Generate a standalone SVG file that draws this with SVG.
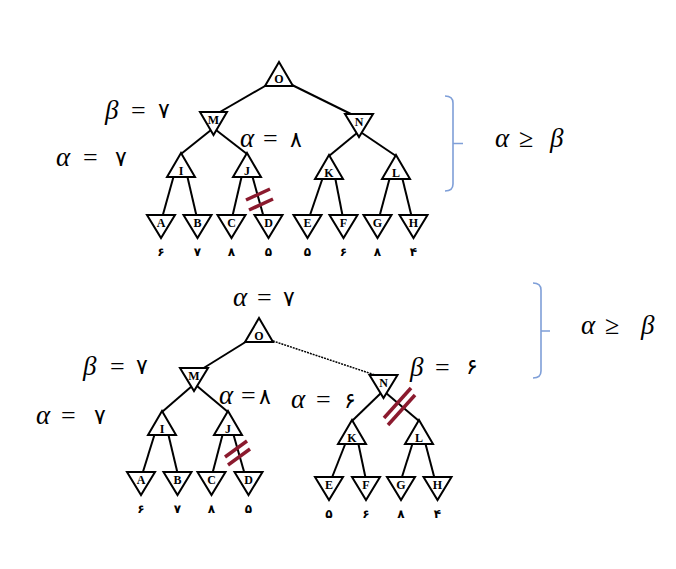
<svg xmlns="http://www.w3.org/2000/svg" width="676" height="569" viewBox="0 0 676 569">
<style>
.t{fill:#fff;stroke:#000;stroke-width:2;stroke-linejoin:miter}
.e{stroke:#000;stroke-width:2;fill:none}
.d{stroke:#000;stroke-width:1.5;fill:none;stroke-dasharray:2 1}
.cut{stroke:#8b1a2e;stroke-width:3.5;fill:none}
.br{stroke:#7f9fd8;stroke-width:1.6;fill:none}
.nl{font-family:"Liberation Serif",serif;font-weight:bold;font-size:12px;text-anchor:middle;fill:#000}
.v{font-family:"DejaVu Sans",sans-serif;font-weight:bold;font-size:12px;text-anchor:middle;fill:#000}
.g{font-family:"Liberation Serif",serif;font-style:italic;font-size:27px;fill:#000}
.eq{font-family:"Liberation Serif",serif;font-size:26px;fill:#000}
.n{font-family:"DejaVu Sans",sans-serif;font-size:22px;fill:#000}
</style>
<rect width="676" height="569" fill="#fff"/>
<g id="connectors">
<line class="e" x1="272" y1="82" x2="213" y2="116"/>
<line class="e" x1="286" y1="82" x2="359" y2="118"/>
<line class="e" x1="211" y1="130" x2="181" y2="154"/>
<line class="e" x1="216" y1="130" x2="247" y2="154"/>
<line class="e" x1="357" y1="133" x2="329" y2="156"/>
<line class="e" x1="362" y1="133" x2="396" y2="156"/>
<line class="e" x1="174" y1="175" x2="162" y2="218"/>
<line class="e" x1="187" y1="175" x2="197" y2="218"/>
<line class="e" x1="242" y1="175" x2="232" y2="218"/>
<line class="e" x1="252" y1="175" x2="264" y2="218"/>
<line class="e" x1="323" y1="177" x2="309" y2="218"/>
<line class="e" x1="335" y1="177" x2="343" y2="218"/>
<line class="e" x1="390" y1="177" x2="379" y2="218"/>
<line class="e" x1="402" y1="177" x2="412" y2="218"/>
<line class="e" x1="252" y1="338" x2="194" y2="374"/>
<line class="d" x1="270" y1="340" x2="384" y2="378"/>
<line class="e" x1="192" y1="386" x2="162" y2="412"/>
<line class="e" x1="197" y1="386" x2="228" y2="412"/>
<line class="e" x1="381" y1="393" x2="352" y2="421"/>
<line class="e" x1="386" y1="393" x2="419" y2="421"/>
<line class="e" x1="155" y1="433" x2="142" y2="475"/>
<line class="e" x1="168" y1="433" x2="178" y2="475"/>
<line class="e" x1="223" y1="433" x2="212" y2="475"/>
<line class="e" x1="233" y1="433" x2="245" y2="475"/>
<line class="e" x1="346" y1="442" x2="331" y2="480"/>
<line class="e" x1="358" y1="442" x2="366" y2="480"/>
<line class="e" x1="413" y1="442" x2="401" y2="480"/>
<line class="e" x1="425" y1="442" x2="435" y2="480"/>
</g>
<g id="top-tree">
<g id="tO"><polygon class="t" points="279,62 265,86 293,86"/><text class="nl" x="279" y="83">O</text></g>
<g id="tM"><polygon class="t" points="200,112 227,112 213.5,135"/><text class="nl" x="213.5" y="124">M</text></g>
<g id="tN"><polygon class="t" points="345,114 373,114 359,137"/><text class="nl" x="359" y="126">N</text></g>
<g id="tI"><polygon class="t" points="181,153 167,177 195,177"/><text class="nl" x="181" y="175">I</text></g>
<g id="tJ"><polygon class="t" points="247,153 233,177 261,177"/><text class="nl" x="247" y="175">J</text></g>
<g id="tK"><polygon class="t" points="329,155 315,179 343,179"/><text class="nl" x="329" y="177">K</text></g>
<g id="tL"><polygon class="t" points="396,155 382,179 410,179"/><text class="nl" x="396" y="177">L</text></g>
<g id="tA"><polygon class="t" points="147,215 175,215 161,238"/><text class="nl" x="161" y="227">A</text><text class="v" x="161" y="256">۶</text></g>
<g id="tB"><polygon class="t" points="183.5,215 211.5,215 197.5,238"/><text class="nl" x="197.5" y="227">B</text><text class="v" x="197.5" y="256">۷</text></g>
<g id="tC"><polygon class="t" points="217.5,215 245.5,215 231.5,238"/><text class="nl" x="231.5" y="227">C</text><text class="v" x="231.5" y="256">۸</text></g>
<g id="tD"><polygon class="t" points="254.5,215 282.5,215 268.5,238"/><text class="nl" x="268.5" y="227">D</text><text class="v" x="268.5" y="256">۵</text></g>
<g id="tE"><polygon class="t" points="293.5,215 321.5,215 307.5,238"/><text class="nl" x="307.5" y="227">E</text><text class="v" x="307.5" y="256">۵</text></g>
<g id="tF"><polygon class="t" points="329.5,215 357.5,215 343.5,238"/><text class="nl" x="343.5" y="227">F</text><text class="v" x="343.5" y="256">۶</text></g>
<g id="tG"><polygon class="t" points="363.5,215 391.5,215 377.5,238"/><text class="nl" x="377.5" y="227">G</text><text class="v" x="377.5" y="256">۸</text></g>
<g id="tH"><polygon class="t" points="399.5,215 427.5,215 413.5,238"/><text class="nl" x="413.5" y="227">H</text><text class="v" x="413.5" y="256">۴</text></g>
</g>
<g id="bottom-tree">
<g id="bO"><polygon class="t" points="259,318 245,342 273,342"/><text class="nl" x="259" y="340">O</text></g>
<g id="bM"><polygon class="t" points="180,368 208,368 194,391"/><text class="nl" x="194" y="380">M</text></g>
<g id="bN"><polygon class="t" points="369.5,375 397.5,375 383.5,398"/><text class="nl" x="383.5" y="387">N</text></g>
<g id="bI"><polygon class="t" points="162,411 148,435 176,435"/><text class="nl" x="162" y="433">I</text></g>
<g id="bJ"><polygon class="t" points="228,411 214,435 242,435"/><text class="nl" x="228" y="433">J</text></g>
<g id="bK"><polygon class="t" points="352,420 338,444 366,444"/><text class="nl" x="352" y="442">K</text></g>
<g id="bL"><polygon class="t" points="419,420 405,444 433,444"/><text class="nl" x="419" y="442">L</text></g>
<g id="bA"><polygon class="t" points="127,472 155,472 141,495"/><text class="nl" x="141" y="484">A</text><text class="v" x="141" y="513">۶</text></g>
<g id="bB"><polygon class="t" points="163.5,472 191.5,472 177.5,495"/><text class="nl" x="177.5" y="484">B</text><text class="v" x="177.5" y="513">۷</text></g>
<g id="bC"><polygon class="t" points="197.5,472 225.5,472 211.5,495"/><text class="nl" x="211.5" y="484">C</text><text class="v" x="211.5" y="513">۸</text></g>
<g id="bD"><polygon class="t" points="234.5,472 262.5,472 248.5,495"/><text class="nl" x="248.5" y="484">D</text><text class="v" x="248.5" y="513">۵</text></g>
<g id="bE"><polygon class="t" points="315,477 343,477 329,500"/><text class="nl" x="329" y="489">E</text><text class="v" x="329" y="518">۵</text></g>
<g id="bF"><polygon class="t" points="352,477 380,477 366,500"/><text class="nl" x="366" y="489">F</text><text class="v" x="366" y="518">۶</text></g>
<g id="bG"><polygon class="t" points="387,477 415,477 401,500"/><text class="nl" x="401" y="489">G</text><text class="v" x="401" y="518">۸</text></g>
<g id="bH"><polygon class="t" points="423.5,477 451.5,477 437.5,500"/><text class="nl" x="437.5" y="489">H</text><text class="v" x="437.5" y="518">۴</text></g>
</g>
<g id="cuts">
<line class="cut" x1="246" y1="200" x2="270" y2="189"/>
<line class="cut" x1="249" y1="210" x2="273" y2="199"/>
<line class="cut" x1="225" y1="457" x2="247" y2="441"/>
<line class="cut" x1="228" y1="465" x2="250" y2="449"/>
<line class="cut" x1="384" y1="418" x2="411" y2="388"/>
<line class="cut" x1="388" y1="425" x2="415" y2="395"/>
</g>
<g id="labels">
<text x="0" y="0"><tspan class="g" x="105" y="119">β</tspan><tspan class="eq" x="131" y="119">=</tspan><tspan class="n" x="158" y="118">٧</tspan></text>
<text x="0" y="0"><tspan class="g" x="56" y="166">α</tspan><tspan class="eq" x="83" y="166">=</tspan><tspan class="n" x="115" y="166">٧</tspan></text>
<text x="0" y="0"><tspan class="g" x="240" y="147">α</tspan><tspan class="eq" x="263" y="147">=</tspan><tspan class="n" x="290" y="147">٨</tspan></text>
<text x="0" y="0"><tspan class="g" x="233" y="306">α</tspan><tspan class="eq" x="257" y="306">=</tspan><tspan class="n" x="283" y="306">٧</tspan></text>
<text x="0" y="0"><tspan class="g" x="83" y="375">β</tspan><tspan class="eq" x="110" y="375">=</tspan><tspan class="n" x="136" y="374">٧</tspan></text>
<text x="0" y="0"><tspan class="g" x="36" y="424">α</tspan><tspan class="eq" x="61" y="424">=</tspan><tspan class="n" x="94" y="424">٧</tspan></text>
<text x="0" y="0"><tspan class="g" x="219" y="404">α</tspan><tspan class="eq" x="241" y="404">=</tspan><tspan class="n" x="259" y="404">٨</tspan></text>
<text x="0" y="0"><tspan class="g" x="291" y="408">α</tspan><tspan class="eq" x="316" y="408">=</tspan><tspan class="n" x="344" y="408">۶</tspan></text>
<text x="0" y="0"><tspan class="g" x="410" y="376">β</tspan><tspan class="eq" x="435" y="376">=</tspan><tspan class="n" x="466" y="374">۶</tspan></text>
<text x="0" y="0"><tspan class="g" x="495" y="147">α</tspan><tspan class="eq" x="519" y="147">≥</tspan><tspan class="g" x="550" y="147">β</tspan></text>
<text x="0" y="0"><tspan class="g" x="581" y="334">α</tspan><tspan class="eq" x="605" y="334">≥</tspan><tspan class="g" x="641" y="334">β</tspan></text>
</g>
<g id="brackets">
<path class="br" d="M445,96 Q453,96 453,103 L453,184 Q453,191 445,191 M453,143.5 L463,143.5"/>
<path class="br" d="M533,283 Q541,283 541,290 L541,371 Q541,378 533,378 M541,331 L550,331"/>
</g>
</svg>
